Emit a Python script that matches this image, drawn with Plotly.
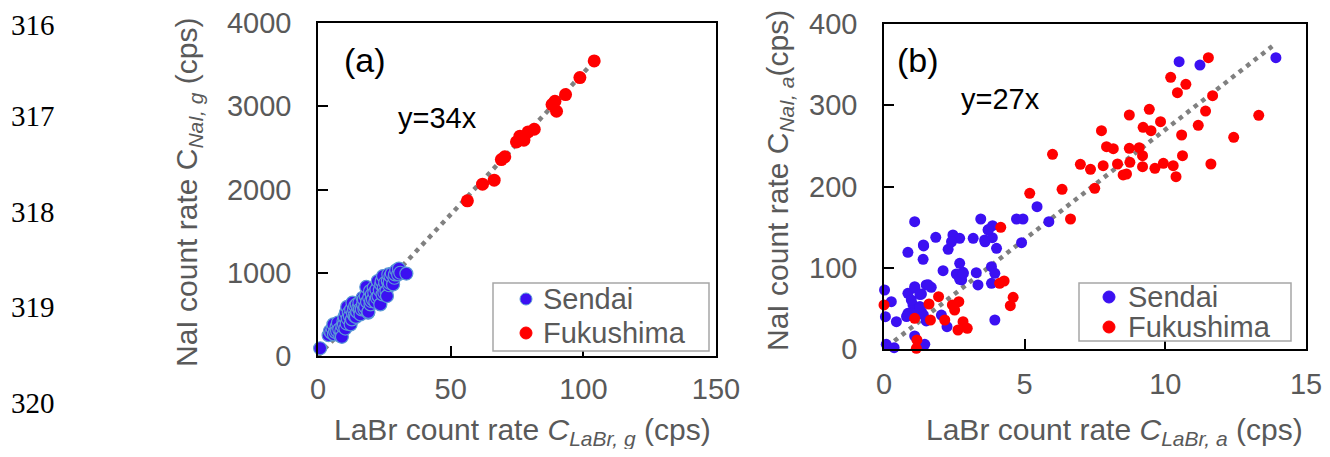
import plotly.graph_objects as go

# The page body adds an 8 px offset; the figure is sized so the page fits the window exactly.
OFF = 8
W, H = 1330 - 2 * OFF, 457 - 2 * OFF

# ---------------- data ----------------
# Panel (a): gross count rates
sendai_a_x = [0.8, 4.0, 4.5, 5.0, 5.5, 5.8, 6.0, 6.5, 7.0, 7.2, 7.5, 8.0, 8.4, 8.8, 9.0, 9.2, 9.6,
              9.8, 10.0, 10.3, 10.5, 10.8, 11.0, 11.2, 11.6, 12.0, 12.3, 12.5, 12.8, 13.0, 13.2,
              13.6, 13.8, 14.0, 14.3, 14.6, 14.8, 15.2, 15.6, 15.8, 16.0, 16.5, 16.8, 17.0, 17.3,
              17.5, 17.8, 18.0, 18.2, 18.5, 18.9, 19.0, 19.3, 19.6, 19.8, 20.0, 20.3, 20.7, 21.0,
              21.2, 21.6, 22.0, 22.2, 22.5, 22.8, 23.3, 23.5, 23.8, 24.0, 24.3, 24.5, 24.8, 25.0,
              25.3, 25.8, 26.0, 26.3, 26.5, 26.8, 27.0, 27.3, 27.8, 28.3, 28.8, 29.0, 29.5, 30.2,
              30.5, 31.0, 33.3]
sendai_a_y = [93, 250, 300, 280, 330, 380, 260, 290, 350, 300, 400, 320, 240, 300, 230, 360, 420,
              380, 470, 330, 520, 390, 590, 450, 520, 480, 380, 560, 440, 640, 510,
              560, 480, 600, 470, 620, 530, 580, 640, 560, 500, 560, 700, 620, 680,
              560, 590, 720, 830, 650, 520, 530, 700, 780, 620, 660, 740, 680, 820,
              760, 650, 800, 700, 900, 720, 790, 620, 860, 900, 740, 960, 820, 760,
              880, 780, 720, 900, 980, 850, 880, 960, 990, 860, 940, 980, 1030, 980,
              1050, 1000, 990]
fuku_a_x = [104.1, 98.7, 93.3, 89.3, 88.2, 89.9, 81.5, 79.2, 77.6, 76.1, 74.8, 70.4, 69.1, 66.4, 62.0, 56.3]
fuku_a_y = [3544, 3344, 3140, 3060, 3020, 2940, 2724, 2692, 2592, 2640, 2572, 2392, 2360, 2112, 2064, 1864]
fit_a_x = [0, 105]
slope_a = 34

# Panel (b)
sendai_b_x = [10.49, 11.23, 13.93, 5.44, 5.86, 4.71, 4.94, 4.89, 1.09, 3.44, 3.86, 3.70, 1.84, 2.45,
              2.69, 3.17, 3.58, 3.85, 1.41, 2.28, 4.00, 0.85, 1.39, 2.69, 2.10, 2.57, 2.81, 3.28,
              3.82, 3.94, 2.69, 3.34, 3.82, 0.02, 0.26, 0.85, 1.09, 1.33, 1.50, 1.68, 1.03, 1.27,
              0.05, 0.44, 0.85, 1.50, 2.04, 2.24, 3.94, 1.09, 1.45, 0.08, 0.36, 0.97, 1.33,
              1.10, 1.28, 1.57, 0.98, 1.40, 1.40, 2.40, 3.71, 3.59, 2.76, 2.82, 0.80, 1.28]
sendai_b_y = [353.6, 349.5, 358.6, 175.2, 156.7, 160.0, 160.0, 130.9, 156.7, 160.0, 151.8, 146.5, 137.4, 140.3,
              136.2, 136.2, 134.2, 137.0, 126.8, 122.7, 123.9, 119.0, 110.4, 105.4, 96.4, 92.3, 94.4, 94.0,
              101.3, 93.1, 85.7, 78.8, 80.8, 72.6, 58.3, 68.5, 76.7, 67.7, 78.8, 75.9, 54.2, 52.1,
              39.8, 33.6, 43.9, 34.5, 41.8, 27.5, 35.7, 16.0, 5.7, 5.7, 1.6, 60.4, 46.0,
              75.0, 67.0, 79.0, 44.0, 42.0, 128.0, 132.0, 147.0, 132.0, 85.0, 93.0, 40.0, 52.0]
fuku_b_x = [11.53, 10.19, 10.73, 10.43, 11.68, 9.43, 8.72, 11.43, 13.32, 9.83, 11.17, 9.21, 9.49, 7.73,
            10.58, 12.43, 7.91, 8.15, 8.72, 9.07, 9.19, 10.61, 5.99, 8.74, 6.98, 7.79, 8.30, 9.19,
            9.63, 9.93, 10.28, 11.62, 7.34, 8.50, 8.62, 10.38, 5.18, 6.33, 7.49, 6.63, 4.15, 4.11,
            4.27, 4.59, 4.49, 0.0, 1.94, 1.60, 1.09, 1.65, 2.16, 2.43, 2.66, 2.51, 2.81, 2.63, 2.96,
            1.17, 1.15]
fuku_b_y = [358.6, 334.4, 325.7, 315.5, 311.8, 295.0, 288.0, 292.9, 287.6, 279.8, 275.3, 272.8, 268.7, 268.7,
            263.4, 260.5, 249.0, 246.6, 247.0, 247.8, 237.9, 237.9, 239.6, 229.7, 227.3, 225.6, 227.7, 224.4,
            222.4, 228.5, 225.6, 227.7, 221.1, 214.2, 215.4, 212.1, 191.6, 196.5, 197.7, 160.0, 149.7, 80.8,
            83.7, 63.6, 53.3, 54.2, 64.4, 55.4, 37.7, 35.7, 35.7, 54.2, 58.3, 48.0, 33.6, 23.4, 25.4,
            11.1, 0.8]
fit_b_x = [0.1, 13.8]
slope_b = 27

xticks_a = [0, 50, 100, 150]
yticks_a = [0, 1000, 2000, 3000, 4000]
xticks_b = [0, 5, 10, 15]
yticks_b = [0, 100, 200, 300, 400]
series_names = ["Sendai", "Fukushima"]
line_numbers = ["316", "317", "318", "319", "320"]

# ---------------- style ----------------
SANS = "Liberation Sans, Arial, sans-serif"
GRAY = "#595959"
BLUE = "#3B10F2"
BLUE_EDGE = "#5B9BD5"
RED = "#FF0000"
FS = 29
FS_TITLE = 30


def px(x):
    return (x - OFF) / W


def py(y):
    return 1 - (y - OFF) / H


fig = go.Figure()

fig.add_trace(go.Scatter(x=fit_a_x, y=[slope_a * v for v in fit_a_x], mode="lines",
                         line=dict(color="#808080", width=4.5, dash="4.5px,5px"),
                         showlegend=False, xaxis="x", yaxis="y", hoverinfo="skip"))
fig.add_trace(go.Scatter(x=sendai_a_x, y=sendai_a_y, mode="markers", name=series_names[0],
                         marker=dict(color=BLUE, size=13, line=dict(color=BLUE_EDGE, width=1.2)),
                         xaxis="x", yaxis="y", showlegend=False, cliponaxis=False))
fig.add_trace(go.Scatter(x=fuku_a_x, y=fuku_a_y, mode="markers", name=series_names[1],
                         marker=dict(color=RED, size=13, line=dict(width=0)),
                         xaxis="x", yaxis="y", showlegend=False, cliponaxis=False))

fig.add_trace(go.Scatter(x=fit_b_x, y=[slope_b * v for v in fit_b_x], mode="lines",
                         line=dict(color="#808080", width=4.5, dash="4.5px,5px"),
                         showlegend=False, xaxis="x2", yaxis="y2", hoverinfo="skip"))
fig.add_trace(go.Scatter(x=sendai_b_x, y=sendai_b_y, mode="markers", name=series_names[0],
                         marker=dict(color=BLUE, size=11, line=dict(width=0)),
                         xaxis="x2", yaxis="y2", showlegend=False, cliponaxis=False))
fig.add_trace(go.Scatter(x=fuku_b_x, y=fuku_b_y, mode="markers", name=series_names[1],
                         marker=dict(color=RED, size=11, line=dict(width=0)),
                         xaxis="x2", yaxis="y2", showlegend=False, cliponaxis=False))

axis_common = dict(showgrid=False, zeroline=False, showline=True, linecolor="black", linewidth=1.5,
                   mirror=True, ticks="inside", ticklen=10, tickwidth=1.5, tickcolor="black",
                   tickfont=dict(family=SANS, size=FS, color=GRAY), fixedrange=True,
                   ticklabeloverflow="allow")

fig.update_layout(
    width=W, height=H, margin=dict(l=0, r=0, t=0, b=0, autoexpand=False),
    paper_bgcolor="white", plot_bgcolor="white", showlegend=False,
    font=dict(family=SANS, size=FS, color=GRAY),
    xaxis=dict(domain=[px(318), px(716)], range=[0, 150], tickvals=xticks_a, anchor="y",
               ticklabelstandoff=6, **axis_common),
    yaxis=dict(domain=[py(356), py(23)], range=[0, 4000], tickvals=yticks_a, anchor="x",
               ticklabelstandoff=19, **axis_common),
    xaxis2=dict(domain=[px(884), px(1306)], range=[0, 15], tickvals=xticks_b, anchor="y2",
                ticklabelstandoff=8, **axis_common),
    yaxis2=dict(domain=[py(349), py(24)], range=[0, 400], tickvals=yticks_b, anchor="x2",
                ticklabelstandoff=19, **axis_common),
)

ann = []
shapes = []
# panel labels and fit equations
ann.append(dict(text="(a)", x=px(365), y=py(60), font=dict(size=34, color="black", family=SANS)))
ann.append(dict(text="y=34x", x=px(437), y=py(118), font=dict(size=29, color="black", family=SANS)))
ann.append(dict(text="(b)", x=px(918), y=py(60), font=dict(size=34, color="black", family=SANS)))
ann.append(dict(text="y=27x", x=px(1000), y=py(99), font=dict(size=29, color="black", family=SANS)))
# axis titles
ann.append(dict(text="LaBr count rate <i>C</i><sub><i>LaBr, g</i></sub> (cps)", x=px(522), y=py(431),
                font=dict(size=FS_TITLE, color=GRAY, family=SANS)))
ann.append(dict(text="NaI count rate C<sub><i>NaI, g</i></sub> (cps)", x=px(188), y=py(193),
                textangle=-90, font=dict(size=FS_TITLE, color=GRAY, family=SANS)))
ann.append(dict(text="LaBr count rate <i>C</i><sub><i>LaBr, a</i></sub> (cps)", x=px(1114), y=py(431),
                font=dict(size=FS_TITLE, color=GRAY, family=SANS)))
ann.append(dict(text="NaI count rate C<sub><i>NaI, a</i></sub>(cps)", x=px(779), y=py(181),
                textangle=-90, font=dict(size=FS_TITLE, color=GRAY, family=SANS)))
for a in ann:
    a.update(xref="paper", yref="paper", showarrow=False, xanchor="center", yanchor="middle")

# legends (box, symbols, labels) for both panels
legend_specs = [
    dict(box=(493, 709, 283, 351), sx=526, tx=541, rows=(299, 333), edge=BLUE_EDGE),
    dict(box=(1079, 1291, 283, 341), sx=1109, tx=1126, rows=(297, 327), edge=BLUE),
]
for spec in legend_specs:
    x0, x1, y0, y1 = spec["box"]
    shapes.append(dict(type="rect", xref="paper", yref="paper", x0=px(x0), x1=px(x1),
                       y0=py(y1), y1=py(y0), line=dict(color="#A6A6A6", width=1.5),
                       fillcolor="white", layer="above"))
    for name, col, edge, ry in zip(series_names, [BLUE, RED], [spec["edge"], RED], spec["rows"]):
        r = 6
        shapes.append(dict(type="circle", xref="paper", yref="paper",
                           x0=px(spec["sx"] - r), x1=px(spec["sx"] + r),
                           y0=py(ry + r), y1=py(ry - r), fillcolor=col,
                           line=dict(color=edge, width=1), layer="above"))
        ann.append(dict(text=name, x=px(spec["tx"]), y=py(ry), xref="paper", yref="paper",
                        showarrow=False, xanchor="left", yanchor="middle",
                        font=dict(size=FS, color=GRAY, family=SANS)))

# line numbers (left margin); the first one is top-anchored so it stays inside the page
ln_y = [None, 116, 212, 307, 403]
for t, yy in zip(line_numbers, ln_y):
    if yy is None:
        pos = dict(y=1.0, yanchor="top")
    else:
        pos = dict(y=py(yy), yanchor="middle")
    ann.append(dict(text=t, x=px(10), xref="paper", yref="paper", showarrow=False,
                    xanchor="left", borderpad=0,
                    font=dict(family="Liberation Serif, Times New Roman, serif", size=29, color="black"),
                    **pos))

fig.update_layout(annotations=ann, shapes=shapes)
fig.write_html("out.html")
